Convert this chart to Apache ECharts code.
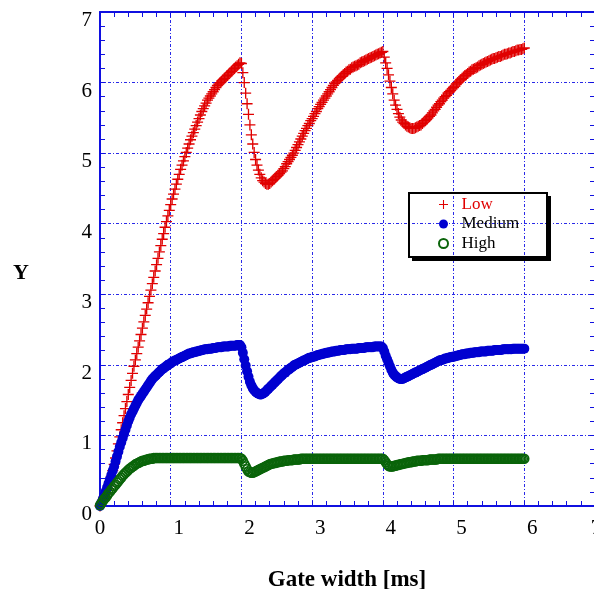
<!DOCTYPE html>
<html>
<head>
<meta charset="utf-8">
<script src="https://cdn.jsdelivr.net/npm/echarts@6/dist/echarts.min.js"></script>
<style>html,body{margin:0;padding:0;background:#fff;}#c{width:594px;height:589px;}</style>
</head>
<body>
<div id="c"></div>
<script>
var gateWidth = [
0,0.02,0.04,0.06,0.08,0.1,0.12,0.14,0.16,0.18,
0.2,0.22,0.24,0.26,0.28,0.3,0.32,0.34,0.36,0.38,
0.4,0.42,0.44,0.46,0.48,0.5,0.52,0.54,0.56,0.58,
0.6,0.62,0.64,0.66,0.68,0.7,0.72,0.74,0.76,0.78,
0.8,0.82,0.84,0.86,0.88,0.9,0.92,0.94,0.96,0.98,
1,1.02,1.04,1.06,1.08,1.1,1.12,1.14,1.16,1.18,
1.2,1.22,1.24,1.26,1.28,1.3,1.32,1.34,1.36,1.38,
1.4,1.42,1.44,1.46,1.48,1.5,1.52,1.54,1.56,1.58,
1.6,1.62,1.64,1.66,1.68,1.7,1.72,1.74,1.76,1.78,
1.8,1.82,1.84,1.86,1.88,1.9,1.92,1.94,1.96,1.98,
2,2.02,2.04,2.06,2.08,2.1,2.12,2.14,2.16,2.18,
2.2,2.22,2.24,2.26,2.28,2.3,2.32,2.34,2.36,2.38,
2.4,2.42,2.44,2.46,2.48,2.5,2.52,2.54,2.56,2.58,
2.6,2.62,2.64,2.66,2.68,2.7,2.72,2.74,2.76,2.78,
2.8,2.82,2.84,2.86,2.88,2.9,2.92,2.94,2.96,2.98,
3,3.02,3.04,3.06,3.08,3.1,3.12,3.14,3.16,3.18,
3.2,3.22,3.24,3.26,3.28,3.3,3.32,3.34,3.36,3.38,
3.4,3.42,3.44,3.46,3.48,3.5,3.52,3.54,3.56,3.58,
3.6,3.62,3.64,3.66,3.68,3.7,3.72,3.74,3.76,3.78,
3.8,3.82,3.84,3.86,3.88,3.9,3.92,3.94,3.96,3.98,
4,4.02,4.04,4.06,4.08,4.1,4.12,4.14,4.16,4.18,
4.2,4.22,4.24,4.26,4.28,4.3,4.32,4.34,4.36,4.38,
4.4,4.42,4.44,4.46,4.48,4.5,4.52,4.54,4.56,4.58,
4.6,4.62,4.64,4.66,4.68,4.7,4.72,4.74,4.76,4.78,
4.8,4.82,4.84,4.86,4.88,4.9,4.92,4.94,4.96,4.98,
5,5.02,5.04,5.06,5.08,5.1,5.12,5.14,5.16,5.18,
5.2,5.22,5.24,5.26,5.28,5.3,5.32,5.34,5.36,5.38,
5.4,5.42,5.44,5.46,5.48,5.5,5.52,5.54,5.56,5.58,
5.6,5.62,5.64,5.66,5.68,5.7,5.72,5.74,5.76,5.78,
5.8,5.82,5.84,5.86,5.88,5.9,5.92,5.94,5.96,5.98,
6
];

var lowValues = [
0.00,0.04,0.08,0.13,0.18,0.23,0.29,0.35,0.42,0.50,
0.59,0.68,0.78,0.88,0.98,1.08,1.18,1.28,1.38,1.48,
1.58,1.68,1.78,1.88,1.98,2.07,2.16,2.25,2.34,2.43,
2.52,2.61,2.70,2.79,2.88,2.97,3.06,3.15,3.24,3.33,
3.42,3.51,3.60,3.69,3.78,3.86,3.95,4.03,4.11,4.19,
4.27,4.35,4.42,4.49,4.56,4.63,4.70,4.77,4.83,4.89,
4.95,5.01,5.07,5.13,5.19,5.24,5.29,5.34,5.39,5.44,
5.49,5.54,5.59,5.63,5.67,5.71,5.75,5.78,5.81,5.84,
5.87,5.90,5.93,5.96,5.98,6.00,6.02,6.04,6.06,6.08,
6.10,6.12,6.14,6.16,6.18,6.20,6.22,6.24,6.26,6.28,
6.27,6.14,6.00,5.85,5.70,5.55,5.40,5.26,5.13,5.01,
4.91,4.83,4.76,4.70,4.65,4.61,4.59,4.57,4.56,4.56,
4.57,4.59,4.61,4.63,4.65,4.67,4.69,4.71,4.73,4.75,
4.78,4.81,4.85,4.88,4.91,4.94,4.97,5.00,5.04,5.08,
5.12,5.16,5.20,5.24,5.28,5.32,5.35,5.39,5.42,5.46,
5.49,5.52,5.56,5.59,5.63,5.66,5.69,5.72,5.75,5.78,
5.81,5.84,5.87,5.90,5.93,5.96,5.99,6.01,6.03,6.05,
6.07,6.09,6.11,6.13,6.15,6.16,6.18,6.19,6.21,6.22,
6.23,6.24,6.25,6.26,6.28,6.29,6.30,6.31,6.32,6.33,
6.34,6.35,6.36,6.37,6.38,6.39,6.40,6.41,6.42,6.43,
6.44,6.36,6.28,6.20,6.11,6.02,5.93,5.84,5.75,5.68,
5.62,5.56,5.51,5.47,5.44,5.42,5.40,5.38,5.37,5.36,
5.35,5.35,5.35,5.36,5.37,5.38,5.39,5.40,5.42,5.44,
5.46,5.48,5.50,5.52,5.54,5.57,5.60,5.62,5.65,5.68,
5.70,5.73,5.75,5.78,5.80,5.82,5.85,5.87,5.89,5.91,
5.93,5.95,5.98,6.00,6.02,6.04,6.06,6.08,6.10,6.11,
6.13,6.15,6.16,6.18,6.19,6.20,6.21,6.22,6.24,6.25,
6.26,6.27,6.28,6.29,6.30,6.31,6.32,6.33,6.34,6.34,
6.35,6.36,6.37,6.37,6.38,6.39,6.40,6.40,6.41,6.42,
6.42,6.43,6.44,6.44,6.45,6.46,6.46,6.47,6.47,6.48,
6.49
];

var mediumValues = [
0.00,0.05,0.10,0.15,0.20,0.26,0.32,0.38,0.44,0.50,
0.56,0.63,0.70,0.77,0.84,0.90,0.96,1.02,1.08,1.14,
1.20,1.25,1.30,1.34,1.38,1.42,1.46,1.50,1.53,1.56,
1.59,1.62,1.65,1.68,1.71,1.74,1.77,1.80,1.82,1.84,
1.86,1.88,1.90,1.92,1.94,1.95,1.97,1.98,2.00,2.01,
2.02,2.04,2.05,2.06,2.07,2.08,2.09,2.10,2.11,2.12,
2.13,2.14,2.15,2.16,2.16,2.17,2.18,2.18,2.19,2.19,
2.20,2.20,2.21,2.21,2.22,2.22,2.22,2.23,2.23,2.23,
2.24,2.24,2.24,2.25,2.25,2.25,2.25,2.26,2.26,2.26,
2.26,2.26,2.27,2.27,2.27,2.27,2.27,2.28,2.28,2.28,
2.25,2.17,2.08,1.99,1.91,1.83,1.76,1.71,1.67,1.64,
1.62,1.60,1.59,1.58,1.58,1.59,1.60,1.62,1.64,1.66,
1.68,1.70,1.72,1.74,1.76,1.78,1.80,1.82,1.84,1.86,
1.88,1.89,1.91,1.93,1.94,1.96,1.97,1.99,2.00,2.01,
2.02,2.03,2.04,2.05,2.06,2.07,2.08,2.09,2.10,2.10,
2.11,2.12,2.12,2.13,2.14,2.14,2.15,2.15,2.16,2.16,
2.17,2.17,2.18,2.18,2.19,2.19,2.19,2.20,2.20,2.20,
2.21,2.21,2.21,2.21,2.22,2.22,2.22,2.22,2.23,2.23,
2.23,2.23,2.23,2.24,2.24,2.24,2.24,2.24,2.25,2.25,
2.25,2.25,2.25,2.25,2.26,2.26,2.26,2.26,2.26,2.26,
2.24,2.19,2.13,2.08,2.03,1.98,1.93,1.89,1.86,1.84,
1.82,1.81,1.80,1.80,1.80,1.81,1.82,1.83,1.84,1.85,
1.86,1.87,1.88,1.89,1.90,1.91,1.92,1.93,1.94,1.95,
1.96,1.97,1.98,1.99,2.00,2.01,2.02,2.03,2.04,2.05,
2.06,2.07,2.07,2.08,2.09,2.09,2.10,2.10,2.11,2.11,
2.12,2.12,2.13,2.13,2.14,2.14,2.15,2.15,2.15,2.16,
2.16,2.16,2.17,2.17,2.17,2.18,2.18,2.18,2.18,2.19,
2.19,2.19,2.19,2.19,2.20,2.20,2.20,2.20,2.20,2.21,
2.21,2.21,2.21,2.21,2.21,2.22,2.22,2.22,2.22,2.22,
2.22,2.22,2.23,2.23,2.23,2.23,2.23,2.23,2.23,2.23,
2.23
];

var highValues = [
0.01,0.04,0.07,0.10,0.12,0.15,0.18,0.20,0.23,0.25,
0.28,0.30,0.33,0.35,0.38,0.40,0.43,0.45,0.47,0.49,
0.51,0.53,0.54,0.56,0.57,0.59,0.60,0.61,0.62,0.63,
0.64,0.64,0.65,0.66,0.66,0.67,0.67,0.67,0.68,0.68,
0.68,0.68,0.68,0.68,0.68,0.68,0.68,0.68,0.68,0.68,
0.68,0.68,0.68,0.68,0.68,0.68,0.68,0.68,0.68,0.68,
0.68,0.68,0.68,0.68,0.68,0.68,0.68,0.68,0.68,0.68,
0.68,0.68,0.68,0.68,0.68,0.68,0.68,0.68,0.68,0.68,
0.68,0.68,0.68,0.68,0.68,0.68,0.68,0.68,0.68,0.68,
0.68,0.68,0.68,0.68,0.68,0.68,0.68,0.68,0.68,0.68,
0.67,0.64,0.60,0.56,0.52,0.49,0.48,0.47,0.47,0.48,
0.49,0.50,0.51,0.52,0.53,0.54,0.55,0.56,0.57,0.58,
0.59,0.60,0.60,0.61,0.61,0.62,0.62,0.63,0.63,0.63,
0.64,0.64,0.64,0.65,0.65,0.65,0.65,0.66,0.66,0.66,
0.66,0.66,0.67,0.67,0.67,0.67,0.67,0.67,0.67,0.67,
0.67,0.67,0.67,0.67,0.67,0.67,0.67,0.67,0.67,0.67,
0.67,0.67,0.67,0.67,0.67,0.67,0.67,0.67,0.67,0.67,
0.67,0.67,0.67,0.67,0.67,0.67,0.67,0.67,0.67,0.67,
0.67,0.67,0.67,0.67,0.67,0.67,0.67,0.67,0.67,0.67,
0.67,0.67,0.67,0.67,0.67,0.67,0.67,0.67,0.67,0.67,
0.67,0.65,0.62,0.59,0.57,0.56,0.56,0.56,0.57,0.57,
0.58,0.58,0.59,0.59,0.60,0.60,0.61,0.61,0.62,0.62,
0.62,0.63,0.63,0.63,0.64,0.64,0.64,0.64,0.65,0.65,
0.65,0.65,0.65,0.66,0.66,0.66,0.66,0.66,0.66,0.67,
0.67,0.67,0.67,0.67,0.67,0.67,0.67,0.67,0.67,0.67,
0.67,0.67,0.67,0.67,0.67,0.67,0.67,0.67,0.67,0.67,
0.67,0.67,0.67,0.67,0.67,0.67,0.67,0.67,0.67,0.67,
0.67,0.67,0.67,0.67,0.67,0.67,0.67,0.67,0.67,0.67,
0.67,0.67,0.67,0.67,0.67,0.67,0.67,0.67,0.67,0.67,
0.67,0.67,0.67,0.67,0.67,0.67,0.67,0.67,0.67,0.67,
0.67
];

var seriesNames = ['Low', 'Medium', 'High'];
var axisTicks = [0, 1, 2, 3, 4, 5, 6, 7];

function pairs(ys) {
  return gateWidth.map(function (x, i) { return [x, ys[i]]; });
}

var SERIF = '"Liberation Serif", "DejaVu Serif", serif';
var AXIS_BLUE = '#1010e0';
var GRID_BLUE = '#2a2ae8';
var RED = '#e00000', BLUE = '#0000d0', GREEN = '#0a640a';
var PLUS = 'path://M4.4,0H5.6V4.4H10V5.6H5.6V10H4.4V5.6H0V4.4H4.4Z';

function mainAxis(pos, extra) {
  var a = {
    type: 'value', position: pos, min: axisTicks[0], max: axisTicks[axisTicks.length - 1], interval: 1,
    axisLine: { show: true, onZero: false, lineStyle: { color: AXIS_BLUE, width: 2 } },
    axisTick: { show: true, inside: true, length: 5, lineStyle: { color: AXIS_BLUE, width: 1 } },
    minorTick: { show: true, splitNumber: 5, length: 5, lineStyle: { color: AXIS_BLUE, width: 1 } },
    splitLine: { show: true, lineStyle: { color: GRID_BLUE, width: 1, type: [3, 2, 1, 2] } },
    minorSplitLine: { show: false }
  };
  for (var k in extra) a[k] = extra[k];
  return a;
}
function sideAxis(pos) {
  return mainAxis(pos, { axisLabel: { show: false }, splitLine: { show: false } });
}

var chart = echarts.init(document.getElementById('c'), null, { renderer: 'canvas' });
chart.setOption({
  animation: false,
  backgroundColor: '#fff',
  grid: { left: 100, right: -1, top: 12, bottom: 83, containLabel: false, outerBoundsMode: 'none' },
  xAxis: [
    mainAxis('bottom', {
      axisLabel: {
        margin: 12, color: '#000', fontFamily: SERIF, fontSize: 21,
        formatter: function (v) {
          if (v === 0) return '{z|0}';
          if (v === 7) return '{e|7}';
          return '{n|' + v + '}';
        },
        rich: { z: { fontFamily: SERIF, fontSize: 21, color: '#000' },
                e: { fontFamily: SERIF, fontSize: 21, color: '#000', padding: [0, 0, 0, 2] },
                n: { fontFamily: SERIF, fontSize: 21, color: '#000', padding: [0, 0, 0, 16] } }
      }
    }),
    sideAxis('top')
  ],
  yAxis: [
    mainAxis('left', {
      axisLabel: { margin: 8, color: '#000', fontFamily: SERIF, fontSize: 21, verticalAlign: 'top', lineHeight: 17 }
    }),
    sideAxis('right')
  ],
  legend: {
    orient: 'vertical', left: 438, top: 195, padding: 0, itemGap: 0.5,
    itemWidth: 26, itemHeight: 9,
    textStyle: { fontFamily: SERIF, fontSize: 17, color: '#000', lineHeight: 19 },
    data: [
      { name: seriesNames[0], icon: PLUS, itemStyle: { color: RED }, textStyle: { color: RED } },
      { name: seriesNames[1], itemStyle: { color: BLUE } },
      { name: seriesNames[2] }
    ]
  },
  graphic: [
    { type: 'rect', z: 100, shape: { x: 409, y: 193, width: 138, height: 64 },
      style: { fill: 'none', stroke: '#000', lineWidth: 2 } },
    { type: 'polyline', z: 100, shape: { points: [[549.5, 196], [549.5, 259.5], [412, 259.5]] },
      style: { fill: 'none', stroke: '#000', lineWidth: 3 } },
    { type: 'text', z: 100, x: 21, y: 273,
      style: { text: 'Y', align: 'center', verticalAlign: 'middle', fill: '#000', font: 'bold 22px ' + SERIF } },
    { type: 'text', z: 100, x: 347, y: 580,
      style: { text: 'Gate width [ms]', align: 'center', verticalAlign: 'middle', fill: '#000', font: 'bold 23px ' + SERIF } }
  ],
  series: [
    {
      name: seriesNames[0], type: 'scatter', data: pairs(lowValues),
      symbol: PLUS, symbolSize: 11, itemStyle: { color: RED, opacity: 1 }
    },
    {
      name: seriesNames[1], type: 'scatter', data: pairs(mediumValues),
      symbol: 'circle', symbolSize: 10, itemStyle: { color: BLUE, opacity: 1 }
    },
    {
      name: seriesNames[2], type: 'scatter', data: pairs(highValues),
      symbol: 'circle', symbolSize: 9,
      itemStyle: { color: 'rgba(255,255,255,0)', borderColor: GREEN, borderWidth: 1.5, opacity: 1 }
    }
  ]
});
</script>
</body>
</html>
